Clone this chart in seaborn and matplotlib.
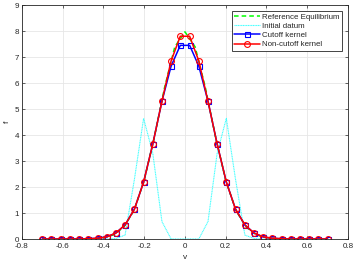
import numpy as np
import pandas as pd
import matplotlib
matplotlib.use("Agg")
import matplotlib.pyplot as plt
import seaborn as sns

# velocity grid (cell centres)
v_grid = [-0.700, -0.655, -0.610, -0.565, -0.519, -0.474, -0.429, -0.384,
	-0.339, -0.294, -0.248, -0.203, -0.158, -0.113, -0.068, -0.023,
	0.023, 0.068, 0.113, 0.158, 0.203, 0.248, 0.294, 0.339,
	0.384, 0.429, 0.474, 0.519, 0.565, 0.610, 0.655, 0.700]

f_initial = [0, 0, 0, 0, 0, 0, 0, 0,
	0.02, 0.15, 2.3, 4.64, 3.3, 0.67, 0, 0,
	0, 0, 0.67, 3.3, 4.64, 2.3, 0.15, 0.02,
	0, 0, 0, 0, 0, 0, 0, 0]

f_cutoff = [0, 0, 0, 0, 0, 0.01, 0.03, 0.08,
	0.23, 0.54, 1.15, 2.19, 3.65, 5.3, 6.65, 7.45,
	7.45, 6.65, 5.3, 3.65, 2.19, 1.15, 0.54, 0.23,
	0.08, 0.03, 0.01, 0, 0, 0, 0, 0]

f_noncutoff = [0, 0, 0, 0, 0, 0.01, 0.03, 0.08,
	0.23, 0.54, 1.15, 2.19, 3.65, 5.3, 6.85, 7.8,
	7.8, 6.85, 5.3, 3.65, 2.19, 1.15, 0.54, 0.23,
	0.08, 0.03, 0.01, 0, 0, 0, 0, 0]

# reference equilibrium, finer sampling
v_eq = [-0.70, -0.65, -0.60, -0.55, -0.50, -0.45, -0.40, -0.35, -0.30, -0.25,
	-0.20, -0.15, -0.10, -0.05, 0.00, 0.05, 0.10, 0.15, 0.20, 0.25,
	0.30, 0.35, 0.40, 0.45, 0.50, 0.55, 0.60, 0.65, 0.70]
f_eq = [0, 0, 0, 0, 0, 0.01, 0.05, 0.16, 0.46, 1.1,
	2.26, 3.93, 5.83, 7.39, 7.97, 7.39, 5.83, 3.93, 2.26, 1.1,
	0.46, 0.16, 0.05, 0.01, 0, 0, 0, 0, 0]

x_ticks = [-0.8, -0.6, -0.4, -0.2, 0, 0.2, 0.4, 0.6, 0.8]
x_tick_labels = ["-0.8", "-0.6", "-0.4", "-0.2", "0", "0.2", "0.4", "0.6", "0.8"]
y_ticks = [0, 1, 2, 3, 4, 5, 6, 7, 8, 9]


def main():
	sns.set_theme(style="whitegrid")
	plt.rcParams["font.family"] = ["Liberation Sans", "DejaVu Sans"]

	fig = plt.figure(figsize=(3.54, 2.66), dpi=100)
	ax = fig.add_axes([0.062, 0.1015, 0.921, 0.8795])

	df = pd.DataFrame({"v": v_grid, "init": f_initial,
		"cut": f_cutoff, "noncut": f_noncutoff})
	df_eq = pd.DataFrame({"v": v_eq, "f": f_eq})

	sns.lineplot(data=df_eq, x="v", y="f", ax=ax, color="#00ff00",
		linestyle=(0, (3, 2)), linewidth=1.1, label="Reference Equilibrium")
	sns.lineplot(data=df, x="v", y="init", ax=ax, color="#40ffff",
		linestyle=(0, (1, 0.5)), linewidth=0.8, label="Initial datum")
	sns.lineplot(data=df, x="v", y="cut", ax=ax, color="#0000ff",
		linewidth=1.1, marker="s", markersize=3.6,
		markerfacecolor="none", markeredgecolor="#0000ff",
		markeredgewidth=0.8, label="Cutoff kernel")
	sns.lineplot(data=df, x="v", y="noncut", ax=ax, color="#ff0000",
		linewidth=1.1, marker="o", markersize=4.2,
		markerfacecolor="none", markeredgecolor="#ff0000",
		markeredgewidth=0.8, label="Non-cutoff kernel")

	ax.set_xlim(-0.8, 0.8)
	ax.set_ylim(0, 9)
	ax.set_xticks(x_ticks)
	ax.set_xticklabels(x_tick_labels)
	ax.set_yticks(y_ticks)
	ax.set_xlabel("v", fontsize=6, labelpad=3)
	ax.set_ylabel("f", fontsize=6, labelpad=3)
	ax.tick_params(labelsize=5.8, direction="in", length=2, width=0.5,
		colors="#262626", bottom=True, left=True, top=True, right=True)
	ax.tick_params(axis="x", pad=3)
	ax.tick_params(axis="y", pad=2)
	ax.grid(True, color="#e6e6e6", linewidth=0.6)
	for spine in ax.spines.values():
		spine.set_color("#262626")
		spine.set_linewidth(0.6)

	leg = ax.legend(loc="upper right", fontsize=5.7, frameon=True, fancybox=False,
		borderpad=0.35, labelspacing=0.2, handlelength=3.2, handletextpad=0.3,
		borderaxespad=0.7)
	leg.get_frame().set_edgecolor("#262626")
	leg.get_frame().set_linewidth(0.6)
	leg.get_frame().set_alpha(1)

	fig.savefig("out.png", dpi=100)


if __name__ == "__main__":
	main()
